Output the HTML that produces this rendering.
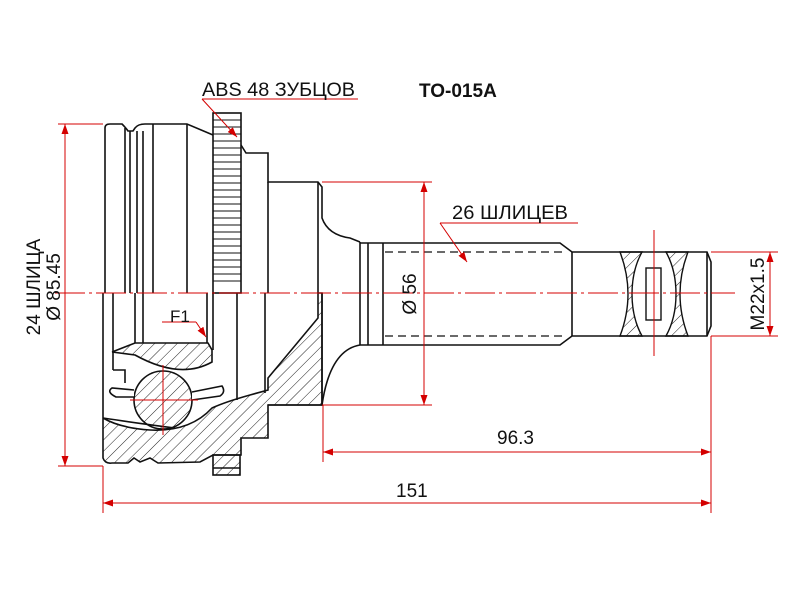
<!DOCTYPE html>
<html><head><meta charset="utf-8"><style>
html,body{margin:0;padding:0;background:#fff;}
svg{display:block;}
text{font-family:"Liberation Sans",sans-serif;}
</style></head><body>
<svg width="800" height="600" viewBox="0 0 800 600" xmlns="http://www.w3.org/2000/svg">
<defs>
<pattern id="h" width="8" height="8" patternUnits="userSpaceOnUse" patternTransform="rotate(45)">
<line x1="0" y1="0" x2="0" y2="8" stroke="#222" stroke-width="1"/>
</pattern>
<marker id="a" viewBox="0 0 10 10" refX="10" refY="5" markerWidth="10" markerHeight="10" orient="auto-start-reverse" markerUnits="userSpaceOnUse">
<path d="M0,1.5 L10,5 L0,8.5 Z" fill="#d40000"/>
</marker>
</defs>
<rect width="800" height="600" fill="#fff"/>

<g fill="none" stroke="#111" stroke-width="1.6">
<path d="M105,293 L105,128 Q105,124 110,124 L122,124 Q126,128 128,131 L133,131 L135,128 Q138,124 145,124 L187,124 L213,135"/>
<line x1="125" y1="128" x2="125" y2="293"/>
<line x1="130" y1="131" x2="130" y2="293"/>
<line x1="137" y1="131" x2="137" y2="293"/>
<line x1="143" y1="131" x2="143" y2="293"/>
<line x1="153" y1="124" x2="153" y2="293"/>
<line x1="187" y1="124" x2="187" y2="293"/>
<rect x="213" y="113" width="28" height="180" />
<path d="M241,145 L246,153 L268,153 L268,182 L318,182 L322,187 L322,218 Q328,235 350,238 L360,242"/>
<line x1="268" y1="182" x2="268" y2="293"/>
<line x1="318" y1="182" x2="318" y2="293"/>
<path d="M322,293 L322,405 L268,405"/>
<path d="M322,405 Q330,350 360,345"/>
<path d="M360,242 L360,345"/>
<path d="M360,243 L560,243 L572,252 L707,252 L711,262 L711,326 L707,336 L572,336 L560,345 L360,345"/>
<line x1="368" y1="243" x2="368" y2="345"/>
<line x1="383" y1="243" x2="383" y2="345"/>
<line x1="572" y1="252" x2="572" y2="336"/>
<line x1="707" y1="252" x2="707" y2="336"/>
</g>
<g stroke="#111" stroke-width="1.2" stroke-dasharray="8,5">
<line x1="385" y1="252" x2="563" y2="252"/>
<line x1="385" y1="336" x2="563" y2="336"/>
</g>
<g stroke="#111" stroke-width="1">
<path d="M213,120H241M213,127H241M213,134H241M213,141H241M213,148H241M213,155H241M213,162H241M213,169H241M213,176H241M213,183H241M213,190H241M213,197H241M213,204H241M213,211H241M213,218H241M213,225H241M213,232H241M213,239H241M213,246H241M213,253H241M213,260H241M213,267H241M213,274H241M213,281H241"/>
</g>
<!-- thread groove -->
<path d="M620,252 Q636,294 620,336 L642,336 Q632,318 632,294 Q632,270 642,252 Z" fill="url(#h)" stroke="#111" stroke-width="1.4"/>
<path d="M688,252 Q672,294 688,336 L666,336 Q676,318 676,294 Q676,270 666,252 Z" fill="url(#h)" stroke="#111" stroke-width="1.4"/>
<rect x="646" y="268" width="15" height="52" fill="#fff" stroke="#111" stroke-width="1.4"/>

<g stroke="#111" stroke-width="1.6">
<path d="M103,293 L103,458 Q105,464 112,463 L128,463 L134,458 L140,462 L150,458 L158,463 L200,462 L213,455 L241,455 L241,438 L268,438 L268,405 L322,405 L322,293 L318,293 L318,318 L268,378 L268,390 L250,395 Q225,402 212,408 Q190,432 150,430 Q120,428 103,418 Z" fill="url(#h)"/>
<rect x="213" y="455" width="27" height="20" fill="url(#h)"/>
<line x1="213" y1="468" x2="240" y2="468"/>
<path d="M112,352 L135,343 L208,343 L212,350 L212,362 Q180,380 135,355 L112,352" fill="url(#h)"/>
<circle cx="163" cy="400" r="29" fill="url(#h)"/>
<path d="M134,397 L116,397 Q106,392 112,388 L134,390" fill="#fff"/>
<path d="M192,392 L222,386 Q226,392 220,396 L192,400" fill="#fff"/>
</g>
<g fill="none" stroke="#111" stroke-width="1.6">
<line x1="113" y1="293" x2="113" y2="370"/>
<line x1="135" y1="293" x2="135" y2="343"/>
<line x1="143" y1="293" x2="143" y2="343"/>
<line x1="207" y1="293" x2="207" y2="343"/>
<line x1="213" y1="293" x2="213" y2="350"/>
<line x1="237" y1="293" x2="237" y2="400"/>
<line x1="265" y1="293" x2="265" y2="393"/>
<path d="M113,370 L125,370 L125,383"/>
<path d="M103,418 Q150,425 175,428"/>
</g>

<g stroke="#d40000" stroke-width="1" fill="none">
<line x1="55" y1="293" x2="735" y2="293" stroke-dasharray="30,4,3,4"/>
<line x1="163" y1="365" x2="163" y2="435"/>
<line x1="130" y1="400" x2="198" y2="400"/>
<line x1="654" y1="230" x2="654" y2="356"/>
<line x1="58" y1="124" x2="103" y2="124"/>
<line x1="58" y1="466" x2="103" y2="466"/>
<line x1="65" y1="124" x2="65" y2="466" marker-start="url(#a)" marker-end="url(#a)"/>
<line x1="322" y1="182" x2="432" y2="182"/>
<line x1="322" y1="405" x2="432" y2="405"/>
<line x1="424" y1="182" x2="424" y2="405" marker-start="url(#a)" marker-end="url(#a)"/>
<line x1="711" y1="252" x2="778" y2="252"/>
<line x1="711" y1="336" x2="778" y2="336"/>
<line x1="770" y1="252" x2="770" y2="336" marker-start="url(#a)" marker-end="url(#a)"/>
<line x1="323" y1="405" x2="323" y2="462"/>
<line x1="711" y1="336" x2="711" y2="513"/>
<line x1="323" y1="452" x2="711" y2="452" marker-start="url(#a)" marker-end="url(#a)"/>
<line x1="103" y1="466" x2="103" y2="513"/>
<line x1="103" y1="503" x2="711" y2="503" marker-start="url(#a)" marker-end="url(#a)"/>
<line x1="202" y1="99" x2="358" y2="99"/>
<line x1="202" y1="99" x2="237" y2="137" marker-end="url(#a)"/>
<line x1="440" y1="223" x2="578" y2="223"/>
<line x1="440" y1="223" x2="467" y2="262" marker-end="url(#a)"/>
<line x1="162" y1="322" x2="196" y2="322"/>
<line x1="196" y1="322" x2="206" y2="337" marker-end="url(#a)"/>
</g>

<g fill="#111" font-size="19">
<text x="202" y="96" textLength="153" lengthAdjust="spacingAndGlyphs">ABS 48 ЗУБЦОВ</text>
<text x="419" y="97" font-weight="bold" font-size="19">TO-015A</text>
<text x="452" y="219" textLength="116" lengthAdjust="spacingAndGlyphs">26 ШЛИЦЕВ</text>
<text x="170" y="322" font-size="17">F1</text>
<text x="497" y="444">96.3</text>
<text x="396" y="497">151</text>
<text transform="translate(416,294) rotate(-90)" text-anchor="middle">Ø 56</text>
<text transform="translate(764,294) rotate(-90)" text-anchor="middle">M22x1.5</text>
<text transform="translate(40,287) rotate(-90)" text-anchor="middle">24 ШЛИЦА</text>
<text transform="translate(60,287) rotate(-90)" text-anchor="middle">Ø 85.45</text>
</g>
</svg>
</body></html>
